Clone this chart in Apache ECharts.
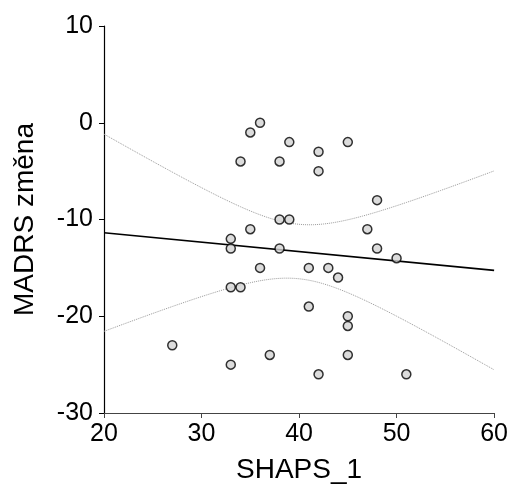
<!DOCTYPE html>
<html>
<head>
<meta charset="utf-8">
<script src="https://cdn.jsdelivr.net/npm/echarts@6/dist/echarts.min.js"></script>
<style>
  html, body { margin: 0; padding: 0; background: #fff; }
  #chart { width: 511px; height: 491px; }
</style>
</head>
<body>
<div id="chart"></div>
<script>
// SHAPS_1 baseline score vs. MADRS change, one point per patient
const shaps = [27, 33, 33, 33, 33, 34, 34, 35, 35, 36, 36, 37, 38, 38, 38, 39, 39,
               41, 41, 42, 42, 42, 43, 44, 45, 45, 45, 45, 47, 48, 48, 50, 51];
const madrsChange = [-23, -12, -13, -17, -25, -4, -17, -1, -11, 0, -15, -24, -4, -10, -13, -2, -10,
                     -15, -19, -3, -5, -26, -15, -16, -2, -20, -21, -24, -11, -8, -13, -14, -26];

const xTicks = [20, 30, 40, 50, 60];
const yTicks = [-30, -20, -10, 0, 10];

// Ordinary least squares fit with a 95% confidence band for the mean
const n = shaps.length;
const mx = shaps.reduce((a, b) => a + b, 0) / n;
const my = madrsChange.reduce((a, b) => a + b, 0) / n;
let sxx = 0, sxy = 0;
for (let i = 0; i < n; i++) {
  sxx += (shaps[i] - mx) ** 2;
  sxy += (shaps[i] - mx) * (madrsChange[i] - my);
}
const slope = sxy / sxx;
const intercept = my - slope * mx;
let sse = 0;
for (let i = 0; i < n; i++) {
  sse += (madrsChange[i] - (intercept + slope * shaps[i])) ** 2;
}
const s = Math.sqrt(sse / (n - 2));
const tCrit = 2.0395; // t(0.975, df = 31)

const xMin = xTicks[0], xMax = xTicks[xTicks.length - 1];
const fitLine = [[xMin, intercept + slope * xMin], [xMax, intercept + slope * xMax]];
const upper = [], lower = [];
for (let x = xMin; x <= xMax + 1e-9; x += 0.5) {
  const yhat = intercept + slope * x;
  const se = s * Math.sqrt(1 / n + (x - mx) ** 2 / sxx);
  upper.push([x, yhat + tCrit * se]);
  lower.push([x, yhat - tCrit * se]);
}

const font = 'Liberation Sans, Arial, sans-serif';
const chart = echarts.init(document.getElementById('chart'));
chart.setOption({
  animation: false,
  backgroundColor: '#fff',
  grid: { left: 104, top: 26, right: 16, bottom: 78 },
  xAxis: {
    type: 'value', min: xMin, max: xMax, interval: 10,
    name: 'SHAPS_1', nameLocation: 'middle', nameGap: 43,
    nameTextStyle: { fontFamily: font, fontSize: 28, color: '#000' },
    axisLine: { show: true, onZero: false, lineStyle: { color: '#444', width: 1.2 } },
    axisTick: { show: true, length: 5, lineStyle: { color: '#444' } },
    axisLabel: { fontFamily: font, fontSize: 25, color: '#000', margin: 9 },
    splitLine: { show: false }
  },
  yAxis: {
    type: 'value', min: yTicks[0], max: yTicks[yTicks.length - 1], interval: 10,
    name: 'MADRS změna', nameLocation: 'middle', nameGap: 65,
    nameTextStyle: { fontFamily: font, fontSize: 28, color: '#000' },
    axisLine: { show: true, onZero: false, lineStyle: { color: '#000', width: 1.2 } },
    axisTick: { show: true, length: 5, lineStyle: { color: '#000' } },
    axisLabel: { fontFamily: font, fontSize: 25, color: '#000', margin: 11 },
    splitLine: { show: false }
  },
  series: [
    {
      type: 'line', data: upper, showSymbol: false, smooth: false, silent: true,
      lineStyle: { color: '#9a9a9a', width: 1, type: [1, 1] }
    },
    {
      type: 'line', data: lower, showSymbol: false, smooth: false, silent: true,
      lineStyle: { color: '#9a9a9a', width: 1, type: [1, 1] }
    },
    {
      type: 'line', data: fitLine, showSymbol: false, silent: true,
      lineStyle: { color: '#000', width: 1.6 }
    },
    {
      type: 'scatter', data: shaps.map((x, i) => [x, madrsChange[i]]),
      symbol: 'circle', symbolSize: 9, z: 5,
      itemStyle: { color: '#d3d3d3', borderColor: '#000', borderWidth: 1.5 }
    }
  ]
});
</script>
</body>
</html>
